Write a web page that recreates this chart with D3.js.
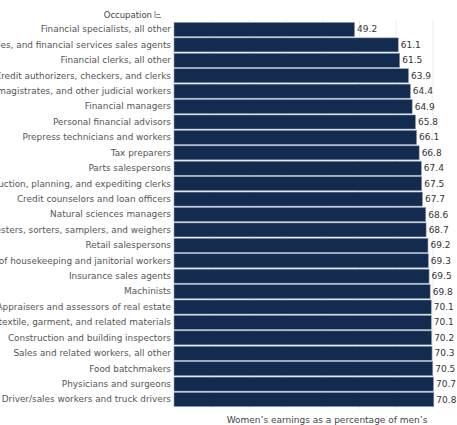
<!DOCTYPE html>
<html>
<head>
<meta charset="utf-8">
<script src="https://cdn.jsdelivr.net/npm/d3@7"></script>
<style>
  body { margin: 0; background: #fff; }
  text { font-family: "DejaVu Sans", Verdana, sans-serif; }
</style>
</head>
<body>
<div id="chart"></div>
<script>
var svgWidth = 457;
var svgHeight = 425;

var occupations = [
  "Financial specialists, all other",
  "Securities, commodities, and financial services sales agents",
  "Financial clerks, all other",
  "Credit authorizers, checkers, and clerks",
  "Judges, magistrates, and other judicial workers",
  "Financial managers",
  "Personal financial advisors",
  "Prepress technicians and workers",
  "Tax preparers",
  "Parts salespersons",
  "Production, planning, and expediting clerks",
  "Credit counselors and loan officers",
  "Natural sciences managers",
  "Inspectors, testers, sorters, samplers, and weighers",
  "Retail salespersons",
  "First-line supervisors of housekeeping and janitorial workers",
  "Insurance sales agents",
  "Machinists",
  "Appraisers and assessors of real estate",
  "Pressers, textile, garment, and related materials",
  "Construction and building inspectors",
  "Sales and related workers, all other",
  "Food batchmakers",
  "Physicians and surgeons",
  "Driver/sales workers and truck drivers"
];
var ratios = [49.2, 61.1, 61.5, 63.9, 64.4, 64.9, 65.8, 66.1, 66.8, 67.4, 67.5, 67.7,
  68.6, 68.7, 69.2, 69.3, 69.5, 69.8, 70.1, 70.1, 70.2, 70.3, 70.5, 70.7, 70.8];
var gridTicks = [10, 20, 30, 40, 50, 60, 70];

var data = occupations.map(function(d, i) {
  return { occupation: d, ratio: ratios[i] };
});

var svg = d3.select("#chart")
  .append("svg")
  .attr("width", svgWidth)
  .attr("height", svgHeight);

// x: zero at left edge of the bars
var xScale = d3.scaleLinear()
  .domain([0, 80])
  .range([174, 174 + 80 * 3.67]);

var yScale = d3.scaleBand()
  .domain(occupations)
  .range([22, 407])
  .paddingInner(0.09)
  .paddingOuter(0.03);

// faint gridlines
svg.append("g")
  .selectAll("line")
  .data(gridTicks)
  .enter()
  .append("line")
  .attr("x1", d => xScale(d) + 2)
  .attr("x2", d => xScale(d) + 2)
  .attr("y1", 20)
  .attr("y2", 409)
  .attr("stroke", "#ececec")
  .attr("stroke-width", 1);

// bars
svg.append("g")
  .selectAll("rect")
  .data(data)
  .enter()
  .append("rect")
  .attr("x", xScale(0))
  .attr("y", d => yScale(d.occupation))
  .attr("width", d => xScale(d.ratio) - xScale(0))
  .attr("height", yScale.bandwidth())
  .attr("fill", "#132b4e")
  .attr("stroke", "#8c9bb0")
  .attr("stroke-width", 0.6);

// value labels
svg.append("g")
  .selectAll("text")
  .data(data)
  .enter()
  .append("text")
  .attr("x", d => xScale(d.ratio) + 2.5)
  .attr("y", d => yScale(d.occupation) + yScale.bandwidth() / 2 + 3)
  .attr("font-size", "9px")
  .attr("fill", "#333")
  .text(d => d.ratio.toFixed(1));

// occupation labels (long names run off the left edge, as in the original)
var yAxis = svg.append("g")
  .attr("transform", "translate(171,0)")
  .call(d3.axisLeft(yScale).tickSize(0).tickPadding(0));
yAxis.select(".domain").remove();
yAxis.selectAll("text")
  .attr("font-family", "DejaVu Sans, Verdana, sans-serif")
  .attr("font-size", "8.9px")
  .attr("fill", "#555");

// header
svg.append("text")
  .attr("x", 152)
  .attr("y", 18)
  .attr("text-anchor", "end")
  .attr("font-size", "8.5px")
  .attr("fill", "#444")
  .text("Occupation");

var icon = svg.append("g")
  .attr("stroke", "#666")
  .attr("stroke-width", 0.8);
icon.append("line").attr("x1", 155).attr("x2", 155).attr("y1", 11).attr("y2", 18);
icon.append("line").attr("x1", 156).attr("x2", 160).attr("y1", 14.5).attr("y2", 14.5);
icon.append("line").attr("x1", 156).attr("x2", 161).attr("y1", 17.5).attr("y2", 17.5);

// axis title
svg.append("text")
  .attr("x", 327)
  .attr("y", 423)
  .attr("text-anchor", "middle")
  .attr("font-size", "9px")
  .attr("fill", "#444")
  .text("Women\u2019s earnings as a percentage of men\u2019s");
</script>
</body>
</html>
